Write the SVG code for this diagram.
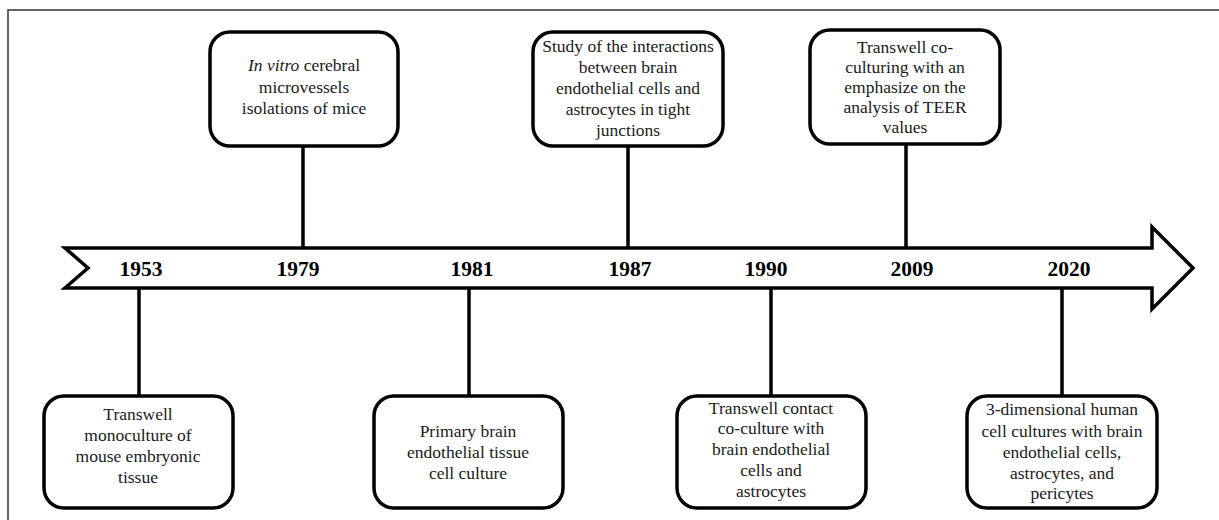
<svg xmlns="http://www.w3.org/2000/svg" width="1219" height="520" viewBox="0 0 1219 520">
<style>
.frame{fill:none;stroke:#333;stroke-width:1.5}
.box{fill:#fff;stroke:#000;stroke-width:3.5}
.ln{stroke:#000;stroke-width:3.5;fill:none}
.arrow{fill:#fff;stroke:#000;stroke-width:3.5;stroke-linejoin:miter}
.t{font-family:"Liberation Serif","Times New Roman",serif;font-size:17.5px;fill:#1a1a1a;text-anchor:middle}
.yr{font-family:"Liberation Serif","Times New Roman",serif;font-size:21.5px;font-weight:bold;fill:#000;text-anchor:middle}
</style>
<rect width="1219" height="520" fill="#fff"/>
<rect class="frame" x="8" y="10" width="1230" height="530"/>
<g id="timeline">
<polygon class="arrow" points="65,248 1152,248 1152,227 1193,268 1152,309 1152,288 65,288 88,268"/>
<text class="yr" x="141" y="276">1953</text>
<text class="yr" x="298" y="276">1979</text>
<text class="yr" x="472" y="276">1981</text>
<text class="yr" x="630" y="276">1987</text>
<text class="yr" x="766" y="276">1990</text>
<text class="yr" x="912" y="276">2009</text>
<text class="yr" x="1069" y="276">2020</text>
</g>
<g id="connectors">
<line class="ln" x1="139" y1="289" x2="139" y2="395"/>
<line class="ln" x1="303" y1="147" x2="303" y2="247"/>
<line class="ln" x1="469" y1="289" x2="469" y2="395"/>
<line class="ln" x1="628" y1="146" x2="628" y2="247"/>
<line class="ln" x1="771" y1="289" x2="771" y2="395"/>
<line class="ln" x1="906" y1="144" x2="906" y2="247"/>
<line class="ln" x1="1062" y1="289" x2="1062" y2="395"/>
</g>
<g id="n1953">
<rect class="box" x="44" y="396" width="189" height="112" rx="20"/>
<text class="t" x="138" y="420">Transwell</text>
<text class="t" x="138" y="441">monoculture of</text>
<text class="t" x="138" y="462">mouse embryonic</text>
<text class="t" x="138" y="483">tissue</text>
</g>
<g id="n1979">
<rect class="box" x="210" y="32" width="188" height="114" rx="20"/>
<text class="t" x="304" y="71"><tspan font-style="italic">In vitro</tspan> cerebral</text>
<text class="t" x="304" y="93">microvessels</text>
<text class="t" x="304" y="114">isolations of mice</text>
</g>
<g id="n1981">
<rect class="box" x="374" y="396" width="189" height="112" rx="20"/>
<text class="t" x="468" y="437">Primary brain</text>
<text class="t" x="468" y="458">endothelial tissue</text>
<text class="t" x="468" y="479">cell culture</text>
</g>
<g id="n1987">
<rect class="box" x="533" y="32" width="190" height="114" rx="20"/>
<text class="t" x="628" y="52">Study of the interactions</text>
<text class="t" x="628" y="73">between brain</text>
<text class="t" x="628" y="94">endothelial cells and</text>
<text class="t" x="628" y="115">astrocytes in tight</text>
<text class="t" x="628" y="136">junctions</text>
</g>
<g id="n1990">
<rect class="box" x="677" y="396" width="189" height="112" rx="20"/>
<text class="t" x="771" y="414">Transwell contact</text>
<text class="t" x="771" y="434">co-culture with</text>
<text class="t" x="771" y="455">brain endothelial</text>
<text class="t" x="771" y="476">cells and</text>
<text class="t" x="771" y="497">astrocytes</text>
</g>
<g id="n2009">
<rect class="box" x="810" y="30" width="190" height="114" rx="20"/>
<text class="t" x="905" y="53">Transwell co-</text>
<text class="t" x="905" y="73">culturing with an</text>
<text class="t" x="905" y="93">emphasize on the</text>
<text class="t" x="905" y="113">analysis of TEER</text>
<text class="t" x="905" y="133">values</text>
</g>
<g id="n2020">
<rect class="box" x="967" y="396" width="190" height="112" rx="20"/>
<text class="t" x="1062" y="415">3-dimensional human</text>
<text class="t" x="1062" y="437">cell cultures with brain</text>
<text class="t" x="1062" y="458">endothelial cells,</text>
<text class="t" x="1062" y="479">astrocytes, and</text>
<text class="t" x="1062" y="499">pericytes</text>
</g>
</svg>
